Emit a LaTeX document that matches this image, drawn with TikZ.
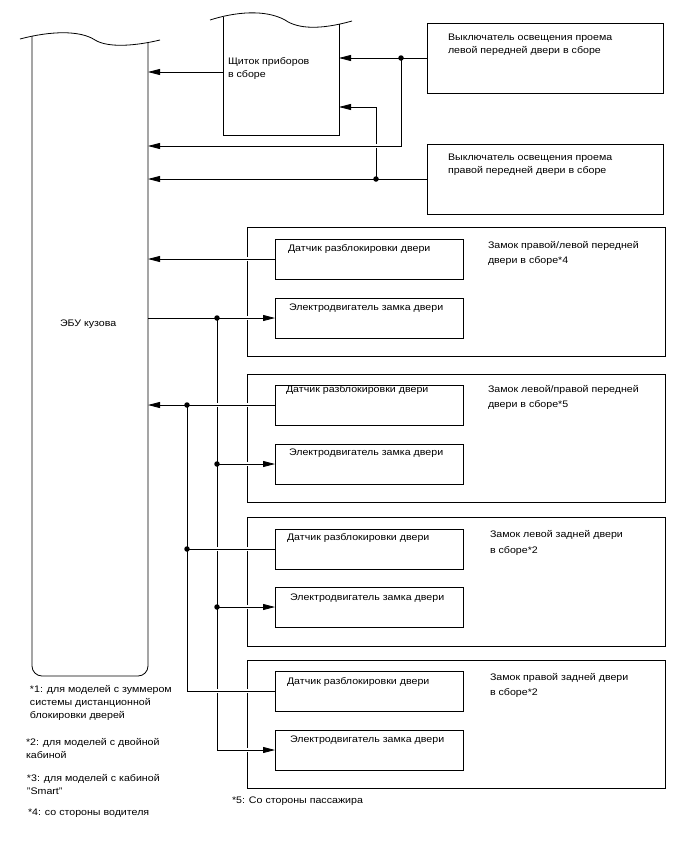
\documentclass[tikz,border=0pt]{standalone}
\usepackage{fontspec}
\setmainfont{Liberation Sans}[FakeStretch=1.12]
\usetikzlibrary{arrows.meta}
\begin{document}
\begin{tikzpicture}[x=1pt,y=-1pt,
  every node/.style={inner sep=0pt, outer sep=0pt},
  rect/.style={draw=black, line width=0.8pt},
  ghost/.style={inner sep=0pt, outer sep=0pt},
  wire/.style={line width=0.8pt},
  over/.style={preaction={draw=white, line width=4.5pt, -, shorten <=3pt, shorten >=3pt}},
  arr/.style={-{Triangle[length=12pt,width=6pt]}},
  lbl/.style={anchor=base west, font=\fontsize{9.5}{13}\selectfont, align=left},
  lblw/.style={anchor=base west, font=\fontsize{9.5}{15.5}\selectfont, align=left},
  dot/.style={circle, fill=black, minimum size=5.5pt, inner sep=0pt}]
\useasboundingbox[fill=white] (0,0) rectangle (688,852);

% ECU
\node[ghost, minimum width=116pt, minimum height=640pt] (ecu) at (90,356) {};
\draw[wire] (20,39) .. controls (50,31) and (80,30) .. (95,40) .. controls (108,48) and (135,46) .. (160,40);
\draw[wire, rounded corners=10pt] (32,36) -- (32,676) -- (148,676) -- (148,42.5);

% Instrument panel
\node[ghost, minimum width=116pt, minimum height=118pt] (shch) at (281,76) {};
\draw[wire] (210,20) .. controls (235,12) and (265,9) .. (285,20) .. controls (298,29) and (320,30) .. (352,21);
\draw[wire] (223,16.5) -- (223,135) -- (339,135) -- (339,24);

% switches
\node[rect, minimum width=236pt, minimum height=70pt] (b1) at (545,58) {};
\node[rect, minimum width=236pt, minimum height=70pt] (b2) at (545,179) {};

% outer lock boxes
\node[rect, minimum width=418pt, minimum height=129pt] (o1) at (456,291.5) {};
\node[rect, minimum width=418pt, minimum height=128pt] (o2) at (456,438) {};
\node[rect, minimum width=418pt, minimum height=129pt] (o3) at (456,581.5) {};
\node[rect, minimum width=418pt, minimum height=128pt] (o4) at (456,724) {};

% sensors and motors
\node[rect, minimum width=188pt, minimum height=40pt] (s1) at (369,259) {};
\node[rect, minimum width=188pt, minimum height=40pt] (m1) at (369,318) {};
\node[rect, minimum width=188pt, minimum height=40pt] (s2) at (369,405) {};
\node[rect, minimum width=188pt, minimum height=40pt] (m2) at (369,464) {};
\node[rect, minimum width=188pt, minimum height=40pt] (s3) at (369,549) {};
\node[rect, minimum width=188pt, minimum height=40pt] (m3) at (369,607) {};
\node[rect, minimum width=188pt, minimum height=40pt] (s4) at (369,691) {};
\node[rect, minimum width=188pt, minimum height=40pt] (m4) at (369,750) {};

% junction coordinates
\coordinate (shout) at (223,72);
\coordinate (j1) at (401,58);
\coordinate (c146) at (401,146);
\coordinate (j2) at (376,179);
\coordinate (shin2) at (339,107);
\coordinate (j3) at (217,318);
\coordinate (j4) at (187,405);
\coordinate (j5) at (217,464);
\coordinate (j6) at (187,549);
\coordinate (j7) at (217,607);

% connectors (verticals first)
\draw[wire, over, arr] (j3) |- (m4.west);
\draw[wire, over] (j4) |- (s4.west);
\draw[wire, over, arr] (j2) |- (shin2);
\draw[wire, over, arr] (b2.west) -- (ecu.east |- b2.west);
\draw[wire, over, arr] (j1) -- (c146) -- (ecu.east |- c146);
\draw[wire, arr] (shout) -- (ecu.east |- shout);
\draw[wire] (b1.west) -- (j1);
\draw[wire, arr] (j1) -- (shch.east |- j1);
\draw[wire, over, arr] (s1.west) -- (ecu.east |- s1.west);
\draw[wire, over, arr] (ecu.east |- m1.west) -- (m1.west);
\draw[wire, over, arr] (s2.west) -- (ecu.east |- s2.west);
\draw[wire, over, arr] (j5) -- (m2.west);
\draw[wire, over] (j6) -- (s3.west);
\draw[wire, over, arr] (j7) -- (m3.west);

\foreach \j in {j1,j2,j3,j4,j5,j6,j7} \node[dot] at (\j) {};

% texts (anchor = baseline of the last line)
\node[lbl] (tecu) at (60,326) {ЭБУ кузова};
\node[lbl] (tshch) at (228,77) {Щиток приборов\\в сборе};
\node[lbl] (tb1) at (448,53.5) {Выключатель освещения проема\\левой передней двери в сборе};
\node[lbl] (tb2) at (448,173.5) {Выключатель освещения проема\\правой передней двери в сборе};
\node[lbl] (ts1) at (288,251.5) {Датчик разблокировки двери};
\node[lbl] (tm1) at (289,310) {Электродвигатель замка двери};
\node[lblw] (to1) at (488,263.5) {Замок правой/левой передней\\двери в сборе*4};
\node[lbl] (ts2) at (286,392) {Датчик разблокировки двери};
\node[lbl] (tm2) at (289,455.5) {Электродвигатель замка двери};
\node[lblw] (to2) at (488,407.5) {Замок левой/правой передней\\двери в сборе*5};
\node[lbl] (ts3) at (287,540.5) {Датчик разблокировки двери};
\node[lbl] (tm3) at (290,600.5) {Электродвигатель замка двери};
\node[lblw] (to3) at (490,553) {Замок левой задней двери\\в сборе*2};
\node[lbl] (ts4) at (287,684.5) {Датчик разблокировки двери};
\node[lbl] (tm4) at (290,742.5) {Электродвигатель замка двери};
\node[lblw] (to4) at (490,695.5) {Замок правой задней двери\\в сборе*2};
\node[lbl] (f1) at (30,718.5) {*1: для моделей с зуммером\\системы дистанционной\\блокировки дверей};
\node[lbl] (f2) at (26,758.5) {*2: для моделей с двойной\\кабиной};
\node[lbl] (f3) at (27,794.5) {*3: для моделей с кабиной\\"Smart"};
\node[lbl] (f4) at (28,815.5) {*4: со стороны водителя};
\node[lbl] (f5) at (232,803.5) {*5: Со стороны пассажира};
\end{tikzpicture}
\end{document}
